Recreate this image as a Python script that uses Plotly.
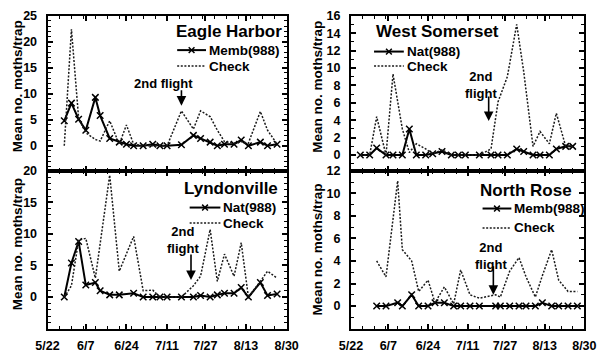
import pandas as pd
import plotly.graph_objects as go

YEAR = "1995"

# ---------------- data ----------------
tick_labels = ["5/22", "6/7", "6/24", "7/11", "7/27", "8/13", "8/30"]

eagle_dates = ["5/29", "6/1", "6/4", "6/7", "6/11", "6/13", "6/17", "6/21", "6/24", "6/27",
               "7/1", "7/5", "7/8", "7/11", "7/17", "7/22", "7/25", "7/29", "8/1", "8/4",
               "8/8", "8/11", "8/14", "8/19", "8/22", "8/26"]
eagle_memb = [4.8, 8.2, 5.1, 3.0, 9.3, 5.8, 1.4, 0.7, 0.3, 0, 0, 0.3, 0, 0, 0.2, 2.0, 1.4, 0.7,
              0, 0.3, 0.3, 1.1, 0, 0.7, 0, 0.3]
eagle_check = [0, 22.4, 5.3, 2.5, 1.2, 0.9, 4.8, 0.3, 4.0, 0.3, 0, 0, 0, 0, 6.7, 3.2, 6.7, 5.6,
               3.0, 0.8, 0.5, 0.8, 0.5, 6.6, 3.0, 0.3]

ws_dates = ["5/26", "5/30", "6/2", "6/6", "6/9", "6/13", "6/16", "6/19", "6/23", "6/26",
            "6/30", "7/4", "7/7", "7/10", "7/16", "7/21", "7/24", "7/28", "8/1", "8/4",
            "8/8", "8/11", "8/15", "8/18", "8/22", "8/25"]
ws_nat = [0, 0, 0.8, 0, 0, 0, 3.0, 0, 0, 0.15, 0.4, 0, 0, 0, 0, 0, 0, 0, 0.7, 0.4, 0, 0, 0,
          0.7, 1.0, 1.0]
ws_check = [0, 0, 4.4, 0, 9.3, 3.0, 0.3, 1.3, 0.7, 0.15, 0.6, 0, 0, 0, 0, 0.7, 6.1, 9.0, 15.0,
            9.6, 1.0, 2.7, 1.3, 4.8, 1.0, 1.0]

lyn_dates = ["5/29", "6/1", "6/4", "6/7", "6/11", "6/13", "6/17", "6/21", "6/27", "7/1",
             "7/5", "7/8", "7/11", "7/17", "7/22", "7/25", "7/29", "8/1", "8/4", "8/8",
             "8/11", "8/14", "8/19", "8/22", "8/26"]
lyn_nat = [0, 5.4, 8.8, 1.9, 2.3, 1.0, 0.35, 0.35, 0.6, 0, 0, 0, 0, 0, 0, 0.25, 0, 0.35, 0.6,
           0.6, 1.5, 0, 2.3, 0.25, 0.5]
lyn_check = [0, 1.8, 9.0, 9.3, 3.0, None, 19.3, 4.1, 9.6, 1.0, 1.1, 0, 0, 0, 1.8, 3.3, 10.7,
             2.5, 6.8, 3.3, 8.6, 0, 2.5, 4.1, 3.0]

nr_dates = ["6/2", "6/6", "6/11", "6/13", "6/17", "6/20", "6/24", "6/27", "7/1", "7/5",
            "7/8", "7/12", "7/16", "7/23", "7/25", "7/29", "8/2", "8/5", "8/9", "8/12",
            "8/16", "8/19", "8/23", "8/27"]
nr_memb = [0, 0, 0.3, 0, 1.0, 0, 0, 0.3, 0.3, 0, 0, 0, 0, 0, 0, 0, 0, 0, 0, 0.3, 0, 0, 0, 0]
nr_check = [4.0, 2.6, 11.1, 5.0, 4.0, 1.3, 2.3, 0.3, 1.7, 0.2, 3.2, 1.0, 0.7, 1.0, 0.8, 3.1,
            4.3, 2.6, 0.8, 2.7, 5.0, 2.3, 1.3, 1.3]

site_names = ["Eagle Harbor", "West Somerset", "Lyndonville", "North Rose"]
treat_names = ["Memb(988)", "Nat(988)", "Nat(988)", "Memb(988)"]
check_name = "Check"

# arrow targets for "2nd flight" (date, value)
flight_eagle = ("7/17", 7.7)
flight_ws = ("7/20", 3.9)
flight_lyn = ("7/21", 2.7)
flight_nr = ("7/22", 1.0)


def d(s):
    return pd.Timestamp(f"{YEAR}/{s}")


def dl(lst):
    return [d(s) for s in lst]


W, H = 605, 353
FONT = "Liberation Sans, Arial, sans-serif"
CHECK_DASH = "2px,1.6px"

fig = go.Figure()

XL = (37, 286)
XR = (353, 596)
YT = (9, 169)
YB = (169, 332)


def px_x(p):
    return p / W


def px_y(p):
    return 1 - p / H


panels = [
    ("", XL, YT, [-4.8, 25], [0, 5, 10, 15, 20, 25], False),
    ("2", XR, YT, [-1.8, 16], [0, 2, 4, 6, 8, 10, 12, 14, 16], False),
    ("3", XL, YB, [-5, 20], [0, 5, 10, 15, 20], True),
    ("4", XR, YB, [-2, 12], [0, 2, 4, 6, 8, 10, 12], True),
]

series = [
    (eagle_dates, eagle_memb, eagle_check),
    (ws_dates, ws_nat, ws_check),
    (lyn_dates, lyn_nat, lyn_check),
    (nr_dates, nr_memb, nr_check),
]

minor_x = list(pd.date_range(d("5/22"), d("8/30"), freq="5D"))

for (suf, xd, yd, yr, ytv, showx), (dates, trt, chk), tname in zip(panels, series, treat_names):
    xa = "x" + suf
    ya = "y" + suf
    fig.add_trace(go.Scatter(
        x=dl(dates), y=trt, mode="lines+markers", name=tname, showlegend=False,
        xaxis=xa, yaxis=ya,
        line=dict(color="black", width=2),
        marker=dict(symbol="x-thin", size=6.5, line=dict(color="black", width=1.5)),
    ))
    fig.add_trace(go.Scatter(
        x=dl(dates), y=chk, mode="lines", name=check_name, showlegend=False,
        connectgaps=True, xaxis=xa, yaxis=ya,
        line=dict(color="#1a1a1a", width=1.5, dash=CHECK_DASH),
    ))
    axis_common = dict(
        showgrid=False, zeroline=False, showline=True, linecolor="black", linewidth=2,
        mirror="ticks", ticks="inside", ticklen=5, tickwidth=1.5, tickcolor="black",
        tickfont=dict(family=FONT, size=12.5, color="black", weight="bold"),
    )
    fig.layout["xaxis" + suf] = dict(
        domain=[px_x(xd[0]), px_x(xd[1])],
        anchor=ya, type="date",
        range=[d("5/22"), d("8/30")],
        tickmode="array", tickvals=dl(tick_labels), ticktext=tick_labels,
        showticklabels=showx, ticklabelstandoff=4,
        minor=dict(tickmode="array", tickvals=minor_x, ticks="inside", ticklen=3,
                   tickwidth=1.2, tickcolor="black"),
        **axis_common,
    )
    fig.layout["yaxis" + suf] = dict(
        domain=[px_y(yd[1]), px_y(yd[0])],
        anchor=xa, range=yr,
        tickmode="array", tickvals=ytv, ticklabelstandoff=6,
        minor=dict(tickmode="array", tickvals=list(range(int(yr[0]), int(yr[1]) + 1)),
                   ticks="inside", ticklen=3, tickwidth=1.2, tickcolor="black"),
        **axis_common,
    )

# ---------------- hand-drawn legends (one per panel) ----------------
shapes = []
ann = []
leg_font = dict(family=FONT, size=13.5, color="black", weight="bold")
# (x0, x1, y_row1, y_row2) in pixels
legend_boxes = [(172, 202, 44.5, 61), (377, 408, 46, 61), (185, 217, 207, 223), (490, 520, 208, 228)]
for (x0, x1, y1, y2), tname in zip(legend_boxes, treat_names):
    shapes.append(dict(type="line", xref="paper", yref="paper",
                       x0=px_x(x0), x1=px_x(x1), y0=px_y(y1), y1=px_y(y1),
                       line=dict(color="black", width=2)))
    xm = (x0 + x1) / 2
    for sgn in (1, -1):
        shapes.append(dict(type="line", xref="paper", yref="paper",
                           x0=px_x(xm - 3), x1=px_x(xm + 3),
                           y0=px_y(y1 - 3 * sgn), y1=px_y(y1 + 3 * sgn),
                           line=dict(color="black", width=1.5)))
    shapes.append(dict(type="line", xref="paper", yref="paper",
                       x0=px_x(x0), x1=px_x(x1), y0=px_y(y2), y1=px_y(y2),
                       line=dict(color="#1a1a1a", width=1.5, dash=CHECK_DASH)))
    ann.append(dict(text=tname, x=px_x(x1 + 1), y=px_y(y1), xanchor="left",
                    yanchor="middle", font=leg_font))
    ann.append(dict(text=check_name, x=px_x(x1 + 1), y=px_y(y2), xanchor="left",
                    yanchor="middle", font=leg_font))

title_font = dict(family=FONT, size=17, color="black", weight="bold")
ann.append(dict(text=site_names[0], x=px_x(283), y=px_y(25.5), xanchor="right",
                yanchor="middle", font=title_font))
ann.append(dict(text=site_names[1], x=px_x(377), y=px_y(25), xanchor="left",
                yanchor="middle", font=title_font))
ann.append(dict(text=site_names[2], x=px_x(279), y=px_y(187.5), xanchor="right",
                yanchor="middle", font=title_font))
ann.append(dict(text=site_names[3], x=px_x(585), y=px_y(189), xanchor="right",
                yanchor="middle", font=title_font))

ytitle_font = dict(family=FONT, size=13.5, color="black", weight="bold")
for (xp, yp) in [(6, 82), (318, 82), (6, 245), (318, 250)]:
    ann.append(dict(text="Mean no. moths/trap", x=px_x(xp), y=px_y(yp),
                    textangle=-90, font=ytitle_font, xanchor="center", yanchor="middle"))

fl_font = dict(family=FONT, size=13, color="black", weight="bold")
for txt, xp, yp in [("2nd flight", 158, 79), ("2nd<br>flight", 488, 80),
                    ("2nd<br>flight", 178, 241), ("2nd<br>flight", 499, 257)]:
    ann.append(dict(text=txt, x=px_x(xp), y=px_y(yp), xanchor="center", yanchor="middle",
                    font=fl_font))

for a in ann:
    a.update(xref="paper", yref="paper", showarrow=False)

for (suf, (dt, val), tail) in [("", flight_eagle, -17), ("2", flight_ws, -26),
                               ("3", flight_lyn, -27), ("4", flight_nr, -30)]:
    ann.append(dict(text="", x=d(dt), y=val, xref="x" + suf, yref="y" + suf,
                    showarrow=True, ax=0, ay=tail, arrowhead=2, arrowsize=1.2,
                    arrowwidth=1.6, arrowcolor="black"))

fig.update_layout(
    annotations=ann, shapes=shapes,
    width=W, height=H,
    margin=dict(l=0, r=0, t=0, b=0),
    paper_bgcolor="white", plot_bgcolor="white",
    font=dict(family=FONT, color="black"),
    showlegend=False,
)

fig.write_html("out.html")
